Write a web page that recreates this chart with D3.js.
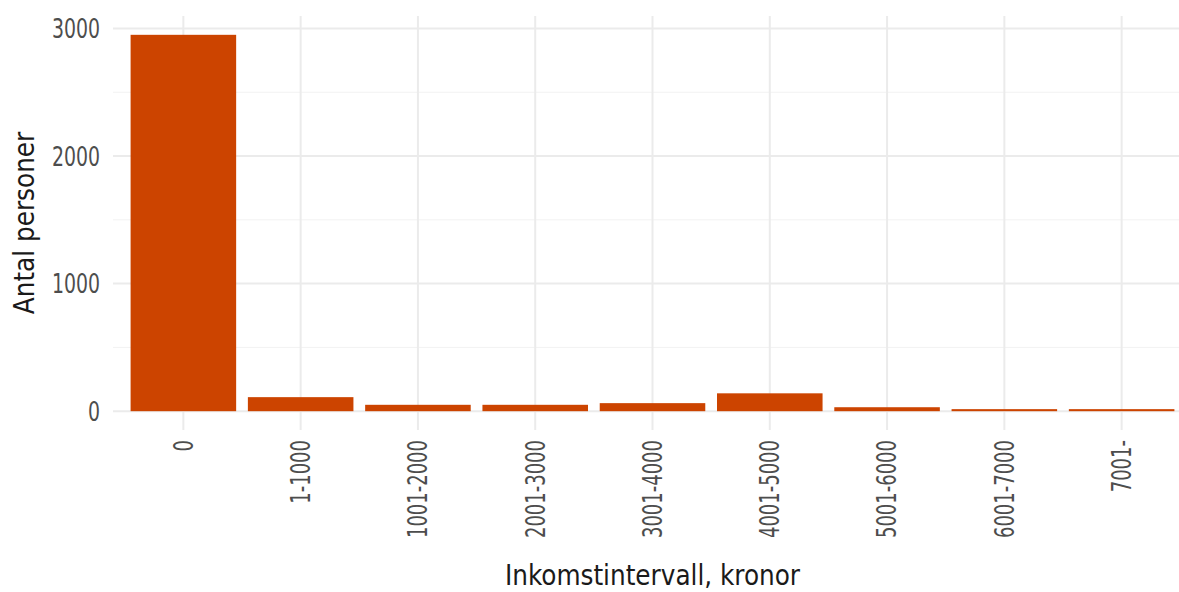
<!DOCTYPE html>
<html lang="sv">
<head>
<meta charset="utf-8">
<title>Antal personer per inkomstintervall</title>
<script src="https://cdn.jsdelivr.net/npm/d3@7"></script>
<style>
  body { margin: 0; background: #fff; }
  text { font-family: "DejaVu Sans Condensed", "DejaVu Sans", sans-serif; font-stretch: condensed; }
</style>
</head>
<body>
<script>
// data
var categories = ["0", "1-1000", "1001-2000", "2001-3000", "3001-4000", "4001-5000", "5001-6000", "6001-7000", "7001-"];
var values = [2950, 110, 50, 50, 63, 140, 31, 16, 16];
var yTicks = [0, 1000, 2000, 3000];
var yMinor = [500, 1500, 2500];

var w = 1179, h = 592;
var pLeft = 113, pRight = 1192, pTop = 16, pBottom = 430;
var stretch = 1.3; // tall narrow glyphs like the original font

var svg = d3.select("body").append("svg").attr("width", w).attr("height", h);

// ggplot style discrete scale with 0.6 expansion
var x = d3.scalePoint().domain(categories).range([pLeft, pRight]).padding(0.6);
var step = x.step();
var ymax = d3.max(values);
var y = d3.scaleLinear().domain([-0.05 * ymax, ymax * 1.05]).range([pBottom, pTop]);

// grid
var g = svg.append("g");
g.selectAll("line.minor").data(yMinor).enter().append("line")
  .attr("x1", pLeft).attr("x2", pRight)
  .attr("y1", function(d){ return y(d); }).attr("y2", function(d){ return y(d); })
  .attr("stroke", "#f2f2f2").attr("stroke-width", 1);
g.selectAll("line.major").data(yTicks).enter().append("line")
  .attr("x1", pLeft).attr("x2", pRight)
  .attr("y1", function(d){ return y(d); }).attr("y2", function(d){ return y(d); })
  .attr("stroke", "#ebebeb").attr("stroke-width", 2);
g.selectAll("line.vx").data(categories).enter().append("line")
  .attr("x1", function(d){ return x(d); }).attr("x2", function(d){ return x(d); })
  .attr("y1", pTop).attr("y2", pBottom)
  .attr("stroke", "#ebebeb").attr("stroke-width", 2);

// bars
svg.selectAll("rect").data(values).enter().append("rect")
  .attr("x", function(d, i){ return x(categories[i]) - step * 0.45; })
  .attr("width", step * 0.9)
  .attr("y", function(d){ return y(d); })
  .attr("height", function(d){ return y(0) - y(d); })
  .attr("fill", "#cc4400");

// y axis labels
svg.selectAll("text.yt").data(yTicks).enter().append("text")
  .attr("transform", function(d){ return "translate(100," + y(d) + ") scale(1," + stretch + ")"; })
  .attr("dy", "0.36em")
  .attr("text-anchor", "end")
  .attr("font-size", 21).attr("fill", "#4d4d4d")
  .text(function(d){ return d; });

// x axis labels, rotated
svg.selectAll("text.xt").data(categories).enter().append("text")
  .attr("transform", function(d){ return "translate(" + x(d) + ",440) rotate(-90) scale(1," + stretch + ")"; })
  .attr("dy", "0.36em")
  .attr("text-anchor", "end")
  .attr("font-size", 20).attr("fill", "#4d4d4d")
  .text(function(d){ return d; });

// titles
svg.append("text")
  .attr("x", (pLeft + pRight) / 2).attr("y", 585)
  .attr("text-anchor", "middle")
  .attr("font-size", 27.5).attr("fill", "#1a1a1a")
  .text("Inkomstintervall, kronor");
svg.append("text")
  .attr("transform", "translate(34," + (pTop + pBottom) / 2 + ") rotate(-90)")
  .attr("text-anchor", "middle")
  .attr("font-size", 27.5).attr("fill", "#1a1a1a")
  .text("Antal personer");
</script>
</body>
</html>
